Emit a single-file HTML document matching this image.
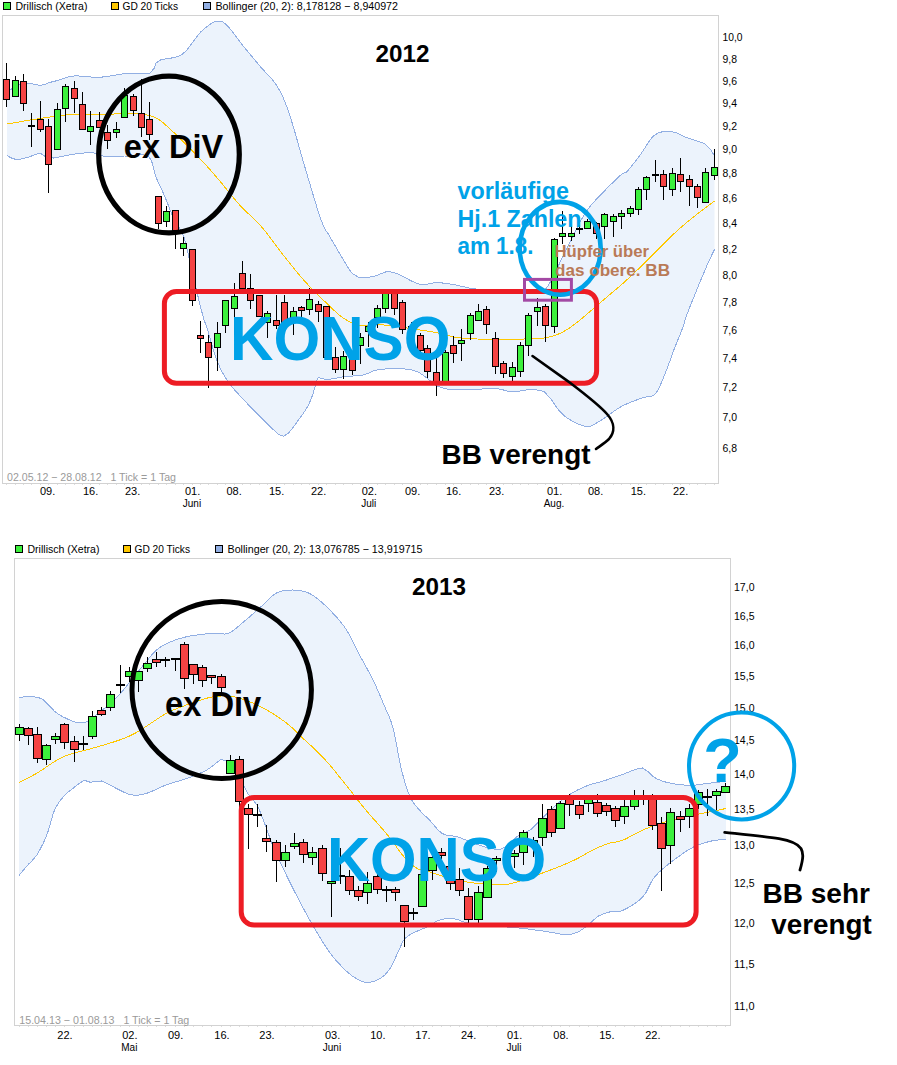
<!DOCTYPE html>
<html><head><meta charset="utf-8"><title>Chart</title>
<style>html,body{margin:0;padding:0;background:#fff}svg{display:block}text{font-family:"Liberation Sans",sans-serif}</style></head>
<body>
<svg width="897" height="1065" viewBox="0 0 897 1065" font-family="Liberation Sans, sans-serif">
<rect width="897" height="1065" fill="#fff"/>
<g shape-rendering="crispEdges">
<rect x="2.5" y="15.5" width="716" height="468" fill="none" stroke="#d2d2d2"/>
</g>
<polygon points="7.0,90.0 11.0,89.4 14.8,86.9 19.5,84.4 24.7,83.5 30.0,83.4 35.0,84.5 40.0,85.4 45.1,84.2 50.0,82.4 53.6,81.5 58.0,80.4 61.2,79.3 64.9,78.0 69.1,76.8 74.0,76.0 77.7,75.9 81.9,76.2 86.2,76.6 90.8,77.0 95.4,77.2 100.0,77.2 103.9,76.9 108.0,76.3 112.2,75.6 116.3,74.9 120.4,74.2 124.3,73.6 128.0,73.2 133.0,73.1 138.0,73.4 142.6,73.7 146.7,73.8 150.0,73.2 154.1,68.3 156.0,63.0 160.5,60.0 163.9,59.2 168.3,58.6 173.2,57.7 178.2,56.3 182.6,54.0 186.5,50.4 190.2,45.8 193.8,40.8 197.3,36.0 200.7,32.0 205.0,28.1 209.2,24.9 213.2,22.4 216.7,21.0 221.8,21.2 226.7,25.0 229.8,28.4 233.1,32.7 236.8,37.7 240.8,43.0 243.8,46.7 247.2,50.8 250.7,55.0 254.3,59.3 257.7,63.4 260.9,67.2 265.3,72.1 269.5,76.4 273.4,80.9 277.0,86.0 279.2,89.7 281.2,93.4 283.0,97.3 284.9,101.7 286.8,106.8 289.0,113.0 290.1,116.3 291.2,119.9 292.4,123.7 293.6,127.8 294.9,132.1 296.1,136.4 297.4,140.9 298.7,145.5 299.9,150.0 301.2,154.5 302.5,159.0 303.8,163.3 305.0,167.5 306.2,171.7 307.5,176.0 308.8,180.4 310.2,184.9 311.5,189.3 312.8,193.8 314.1,198.1 315.4,202.3 316.6,206.3 317.8,210.1 318.9,213.6 320.0,216.8 321.0,219.7 323.7,226.4 325.8,230.4 327.8,233.3 330.0,236.9 332.6,241.5 335.4,246.3 338.2,251.1 341.0,255.8 343.9,260.7 346.9,265.6 349.8,270.2 352.3,273.6 359.0,277.4 363.7,277.5 369.4,277.1 374.6,276.3 380.4,273.9 385.7,271.9 390.6,271.8 396.9,273.6 400.7,275.3 405.2,277.7 410.1,280.3 414.9,282.6 419.2,284.1 424.0,284.5 428.4,283.9 432.6,283.0 437.0,282.6 441.5,282.9 446.0,283.4 450.4,284.1 454.9,284.8 459.1,285.7 463.2,286.7 467.6,287.7 472.7,288.6 476.7,289.1 481.0,289.6 485.6,290.0 490.3,290.4 495.2,290.8 500.0,291.0 504.3,291.1 508.8,291.2 513.4,291.3 518.0,291.3 522.4,291.2 526.4,291.1 530.0,291.0 536.2,291.7 540.8,292.2 545.8,288.8 547.8,286.2 549.8,283.0 551.9,279.2 554.1,274.9 556.2,270.4 558.4,265.7 560.6,261.0 562.8,256.4 565.0,252.0 567.2,247.7 569.4,243.2 571.7,238.6 574.0,234.0 576.3,229.5 578.5,225.0 580.7,220.9 582.9,217.0 585.0,213.5 588.6,208.3 592.0,204.1 595.3,200.4 598.7,196.9 602.3,193.2 606.4,188.9 611.0,184.3 615.5,179.9 619.5,176.1 622.6,173.3 626.5,172.2 629.1,169.2 632.4,165.1 636.1,160.4 639.7,155.6 642.5,151.5 645.5,146.9 648.4,142.3 651.5,138.2 654.6,135.1 658.7,132.8 662.9,131.6 667.1,131.3 671.2,131.5 676.1,132.7 680.7,135.0 686.0,137.4 689.9,138.7 694.2,140.0 698.6,141.4 702.7,143.0 706.0,144.7 711.5,150.8 714.5,156.0 714.5,249.5 713.2,252.2 711.3,256.0 708.9,261.1 706.0,267.7 704.6,271.0 703.0,274.9 701.2,279.1 699.3,283.7 697.4,288.4 695.4,293.1 693.6,297.7 691.8,302.0 690.2,306.0 688.9,309.4 686.8,314.9 685.3,319.3 684.2,323.0 683.1,326.4 681.8,330.0 680.1,334.4 678.5,338.4 676.7,342.7 674.7,347.8 673.3,351.4 671.9,355.5 670.3,359.9 668.7,364.3 667.0,368.7 665.5,372.8 664.0,376.4 661.7,381.9 659.6,386.9 657.4,391.0 655.0,394.2 651.5,396.3 647.5,396.7 642.6,397.8 638.9,399.2 634.6,400.7 630.0,402.5 625.4,404.5 621.0,406.7 616.7,409.4 612.2,412.5 607.9,415.7 603.8,418.6 600.0,421.0 594.9,424.0 590.6,426.1 585.5,426.3 581.5,425.3 577.0,423.5 572.4,421.2 567.9,418.5 564.0,415.6 559.8,411.4 556.0,406.4 552.8,401.6 550.0,397.8 544.0,391.6 540.0,390.5 535.2,389.8 530.0,389.6 525.9,390.0 521.6,390.8 517.2,391.5 512.8,391.8 508.5,391.3 504.2,390.2 499.8,389.1 495.0,388.5 490.8,388.5 486.4,388.7 481.8,389.0 477.2,389.4 472.7,389.6 468.1,389.7 463.5,389.9 458.8,390.0 454.4,389.9 450.4,389.6 444.3,388.4 438.9,386.6 434.8,385.0 430.6,381.2 425.4,376.8 419.0,372.5 414.8,370.8 410.3,369.7 404.5,369.0 400.7,368.8 396.2,368.7 391.4,368.8 386.7,368.9 382.2,369.2 378.4,369.6 372.9,371.1 368.7,373.1 363.9,374.8 360.2,375.4 356.1,375.8 351.8,376.1 347.6,376.4 343.6,376.8 338.8,377.6 334.1,378.5 329.8,379.3 326.2,379.7 321.2,378.2 318.0,377.7 316.2,381.9 314.6,388.4 313.1,393.3 311.3,398.7 308.8,404.3 306.4,408.6 303.5,413.1 300.4,417.5 297.2,421.7 292.9,427.7 288.3,433.4 283.6,436.2 278.8,434.6 273.8,430.1 268.3,424.6 264.6,421.1 260.5,417.2 256.4,413.0 252.1,408.7 248.0,404.3 243.8,399.9 239.5,395.3 235.2,390.6 231.2,385.9 227.7,381.2 224.8,376.7 222.3,372.2 220.0,367.7 218.0,363.0 216.0,358.0 214.6,354.0 213.2,349.6 211.9,345.0 210.6,340.5 209.4,336.1 208.4,332.2 207.4,329.0 205.4,323.7 203.5,318.2 202.6,314.8 201.5,310.6 200.3,305.9 199.1,301.0 197.9,296.1 196.7,291.3 195.7,287.0 194.6,282.5 193.7,278.3 192.8,274.2 191.9,270.2 191.0,266.2 190.0,262.0 189.0,257.6 188.0,253.0 186.9,248.3 185.8,243.8 184.7,239.5 183.4,235.7 181.2,231.1 178.9,227.4 176.4,223.8 174.0,219.5 172.2,215.4 170.4,210.8 168.6,206.1 166.8,201.4 165.0,197.0 163.2,192.8 161.3,188.8 159.5,184.9 157.7,181.0 156.0,177.0 154.6,172.6 153.5,167.9 152.3,163.3 150.8,159.3 148.5,156.5 145.4,155.1 141.6,154.8 137.3,155.2 132.9,155.7 128.4,156.0 124.5,156.0 120.2,156.2 115.8,156.3 111.6,156.5 107.7,156.5 104.3,156.3 99.7,155.2 96.5,153.6 92.3,152.7 88.7,152.7 84.7,152.9 80.4,153.4 76.1,153.9 72.0,154.5 67.0,155.4 61.9,156.4 57.3,157.4 53.5,158.0 46.0,157.0 40.0,153.0 34.9,154.6 29.0,157.0 24.7,158.2 20.1,159.2 16.0,159.5 10.7,157.7 7.0,155.5" fill="#ecf3fc"/>
<polyline points="7.0,90.0 11.0,89.4 14.8,86.9 19.5,84.4 24.7,83.5 30.0,83.4 35.0,84.5 40.0,85.4 45.1,84.2 50.0,82.4 53.6,81.5 58.0,80.4 61.2,79.3 64.9,78.0 69.1,76.8 74.0,76.0 77.7,75.9 81.9,76.2 86.2,76.6 90.8,77.0 95.4,77.2 100.0,77.2 103.9,76.9 108.0,76.3 112.2,75.6 116.3,74.9 120.4,74.2 124.3,73.6 128.0,73.2 133.0,73.1 138.0,73.4 142.6,73.7 146.7,73.8 150.0,73.2 154.1,68.3 156.0,63.0 160.5,60.0 163.9,59.2 168.3,58.6 173.2,57.7 178.2,56.3 182.6,54.0 186.5,50.4 190.2,45.8 193.8,40.8 197.3,36.0 200.7,32.0 205.0,28.1 209.2,24.9 213.2,22.4 216.7,21.0 221.8,21.2 226.7,25.0 229.8,28.4 233.1,32.7 236.8,37.7 240.8,43.0 243.8,46.7 247.2,50.8 250.7,55.0 254.3,59.3 257.7,63.4 260.9,67.2 265.3,72.1 269.5,76.4 273.4,80.9 277.0,86.0 279.2,89.7 281.2,93.4 283.0,97.3 284.9,101.7 286.8,106.8 289.0,113.0 290.1,116.3 291.2,119.9 292.4,123.7 293.6,127.8 294.9,132.1 296.1,136.4 297.4,140.9 298.7,145.5 299.9,150.0 301.2,154.5 302.5,159.0 303.8,163.3 305.0,167.5 306.2,171.7 307.5,176.0 308.8,180.4 310.2,184.9 311.5,189.3 312.8,193.8 314.1,198.1 315.4,202.3 316.6,206.3 317.8,210.1 318.9,213.6 320.0,216.8 321.0,219.7 323.7,226.4 325.8,230.4 327.8,233.3 330.0,236.9 332.6,241.5 335.4,246.3 338.2,251.1 341.0,255.8 343.9,260.7 346.9,265.6 349.8,270.2 352.3,273.6 359.0,277.4 363.7,277.5 369.4,277.1 374.6,276.3 380.4,273.9 385.7,271.9 390.6,271.8 396.9,273.6 400.7,275.3 405.2,277.7 410.1,280.3 414.9,282.6 419.2,284.1 424.0,284.5 428.4,283.9 432.6,283.0 437.0,282.6 441.5,282.9 446.0,283.4 450.4,284.1 454.9,284.8 459.1,285.7 463.2,286.7 467.6,287.7 472.7,288.6 476.7,289.1 481.0,289.6 485.6,290.0 490.3,290.4 495.2,290.8 500.0,291.0 504.3,291.1 508.8,291.2 513.4,291.3 518.0,291.3 522.4,291.2 526.4,291.1 530.0,291.0 536.2,291.7 540.8,292.2 545.8,288.8 547.8,286.2 549.8,283.0 551.9,279.2 554.1,274.9 556.2,270.4 558.4,265.7 560.6,261.0 562.8,256.4 565.0,252.0 567.2,247.7 569.4,243.2 571.7,238.6 574.0,234.0 576.3,229.5 578.5,225.0 580.7,220.9 582.9,217.0 585.0,213.5 588.6,208.3 592.0,204.1 595.3,200.4 598.7,196.9 602.3,193.2 606.4,188.9 611.0,184.3 615.5,179.9 619.5,176.1 622.6,173.3 626.5,172.2 629.1,169.2 632.4,165.1 636.1,160.4 639.7,155.6 642.5,151.5 645.5,146.9 648.4,142.3 651.5,138.2 654.6,135.1 658.7,132.8 662.9,131.6 667.1,131.3 671.2,131.5 676.1,132.7 680.7,135.0 686.0,137.4 689.9,138.7 694.2,140.0 698.6,141.4 702.7,143.0 706.0,144.7 711.5,150.8 714.5,156.0" fill="none" stroke="#92afe3" stroke-width="1" shape-rendering="crispEdges"/>
<polyline points="7.0,155.5 10.7,157.7 16.0,159.5 20.1,159.2 24.7,158.2 29.0,157.0 34.9,154.6 40.0,153.0 46.0,157.0 53.5,158.0 57.3,157.4 61.9,156.4 67.0,155.4 72.0,154.5 76.1,153.9 80.4,153.4 84.7,152.9 88.7,152.7 92.3,152.7 96.5,153.6 99.7,155.2 104.3,156.3 107.7,156.5 111.6,156.5 115.8,156.3 120.2,156.2 124.5,156.0 128.4,156.0 132.9,155.7 137.3,155.2 141.6,154.8 145.4,155.1 148.5,156.5 150.8,159.3 152.3,163.3 153.5,167.9 154.6,172.6 156.0,177.0 157.7,181.0 159.5,184.9 161.3,188.8 163.2,192.8 165.0,197.0 166.8,201.4 168.6,206.1 170.4,210.8 172.2,215.4 174.0,219.5 176.4,223.8 178.9,227.4 181.2,231.1 183.4,235.7 184.7,239.5 185.8,243.8 186.9,248.3 188.0,253.0 189.0,257.6 190.0,262.0 191.0,266.2 191.9,270.2 192.8,274.2 193.7,278.3 194.6,282.5 195.7,287.0 196.7,291.3 197.9,296.1 199.1,301.0 200.3,305.9 201.5,310.6 202.6,314.8 203.5,318.2 205.4,323.7 207.4,329.0 208.4,332.2 209.4,336.1 210.6,340.5 211.9,345.0 213.2,349.6 214.6,354.0 216.0,358.0 218.0,363.0 220.0,367.7 222.3,372.2 224.8,376.7 227.7,381.2 231.2,385.9 235.2,390.6 239.5,395.3 243.8,399.9 248.0,404.3 252.1,408.7 256.4,413.0 260.5,417.2 264.6,421.1 268.3,424.6 273.8,430.1 278.8,434.6 283.6,436.2 288.3,433.4 292.9,427.7 297.2,421.7 300.4,417.5 303.5,413.1 306.4,408.6 308.8,404.3 311.3,398.7 313.1,393.3 314.6,388.4 316.2,381.9 318.0,377.7 321.2,378.2 326.2,379.7 329.8,379.3 334.1,378.5 338.8,377.6 343.6,376.8 347.6,376.4 351.8,376.1 356.1,375.8 360.2,375.4 363.9,374.8 368.7,373.1 372.9,371.1 378.4,369.6 382.2,369.2 386.7,368.9 391.4,368.8 396.2,368.7 400.7,368.8 404.5,369.0 410.3,369.7 414.8,370.8 419.0,372.5 425.4,376.8 430.6,381.2 434.8,385.0 438.9,386.6 444.3,388.4 450.4,389.6 454.4,389.9 458.8,390.0 463.5,389.9 468.1,389.7 472.7,389.6 477.2,389.4 481.8,389.0 486.4,388.7 490.8,388.5 495.0,388.5 499.8,389.1 504.2,390.2 508.5,391.3 512.8,391.8 517.2,391.5 521.6,390.8 525.9,390.0 530.0,389.6 535.2,389.8 540.0,390.5 544.0,391.6 550.0,397.8 552.8,401.6 556.0,406.4 559.8,411.4 564.0,415.6 567.9,418.5 572.4,421.2 577.0,423.5 581.5,425.3 585.5,426.3 590.6,426.1 594.9,424.0 600.0,421.0 603.8,418.6 607.9,415.7 612.2,412.5 616.7,409.4 621.0,406.7 625.4,404.5 630.0,402.5 634.6,400.7 638.9,399.2 642.6,397.8 647.5,396.7 651.5,396.3 655.0,394.2 657.4,391.0 659.6,386.9 661.7,381.9 664.0,376.4 665.5,372.8 667.0,368.7 668.7,364.3 670.3,359.9 671.9,355.5 673.3,351.4 674.7,347.8 676.7,342.7 678.5,338.4 680.1,334.4 681.8,330.0 683.1,326.4 684.2,323.0 685.3,319.3 686.8,314.9 688.9,309.4 690.2,306.0 691.8,302.0 693.6,297.7 695.4,293.1 697.4,288.4 699.3,283.7 701.2,279.1 703.0,274.9 704.6,271.0 706.0,267.7 708.9,261.1 711.3,256.0 713.2,252.2 714.5,249.5" fill="none" stroke="#92afe3" stroke-width="1" shape-rendering="crispEdges"/>
<polyline points="7.0,124.0 9.6,123.6 13.0,123.0 17.0,122.3 21.5,121.5 26.2,120.7 31.0,119.9 35.7,119.2 40.0,118.5 44.0,117.9 48.1,117.3 52.1,116.7 56.1,116.2 60.0,115.6 64.0,115.2 68.0,114.8 72.0,114.5 76.0,114.3 80.1,114.2 84.2,114.3 88.2,114.3 92.3,114.4 96.3,114.5 100.2,114.5 104.0,114.5 108.3,114.3 112.5,114.1 116.6,113.8 120.6,113.5 124.5,113.3 128.3,113.2 132.0,113.3 136.9,113.6 141.6,114.0 146.1,114.7 150.4,115.8 154.5,117.3 159.1,119.8 163.2,122.8 167.5,126.7 172.6,131.4 176.2,134.7 180.2,138.6 184.5,142.9 188.8,147.3 193.1,151.6 197.1,155.8 200.7,159.5 205.0,164.0 208.6,168.1 212.0,171.9 215.4,175.8 219.0,180.0 222.2,183.9 225.5,188.0 228.8,192.1 232.2,196.3 235.7,200.5 239.2,204.5 243.5,209.0 248.0,213.3 252.5,217.5 257.0,221.9 261.5,226.8 264.7,230.6 267.9,234.7 271.1,238.9 274.2,243.2 277.4,247.5 280.6,251.7 283.8,255.8 287.5,260.4 291.2,265.1 294.9,269.6 298.6,274.1 302.3,278.4 306.0,282.6 310.6,287.5 315.3,292.3 320.0,296.8 324.4,301.1 328.4,304.9 333.9,310.2 338.6,314.6 343.4,318.2 348.4,321.2 353.5,323.5 359.0,325.0 363.4,325.3 368.1,325.0 373.0,324.6 378.0,324.5 382.2,324.8 386.7,325.3 391.2,325.8 395.7,326.4 400.0,327.0 404.2,327.6 408.3,328.2 412.3,328.8 416.2,329.4 420.0,330.0 424.4,330.7 428.6,331.3 432.8,331.9 437.0,332.7 441.4,333.8 445.9,335.0 450.4,336.2 454.9,337.2 459.3,337.8 463.5,338.2 467.9,338.5 472.7,338.8 476.9,339.0 481.4,339.1 486.0,339.2 490.6,339.3 495.0,339.4 499.3,339.5 503.7,339.7 507.9,339.8 511.7,339.9 515.0,339.9 519.6,339.5 524.5,338.9 528.2,338.7 532.7,338.6 537.5,338.5 542.3,338.2 546.6,337.6 551.2,336.6 555.5,335.2 559.6,333.6 563.8,331.5 568.1,328.9 572.4,325.9 576.7,322.6 581.0,319.2 585.1,315.8 589.0,312.4 593.2,308.7 598.0,304.5 601.7,301.4 605.6,298.1 609.8,294.6 614.1,291.0 618.4,287.4 622.6,283.7 626.7,280.0 630.8,276.2 634.9,272.3 639.0,268.4 643.1,264.4 647.2,260.4 651.3,256.3 655.6,252.0 659.8,247.7 663.9,243.5 667.9,239.5 671.7,235.8 676.9,231.0 681.6,226.8 686.3,222.8 691.3,218.7 696.1,214.9 701.4,210.8 706.7,206.8 711.3,203.4 714.5,201.0" fill="none" stroke="#ffc800" stroke-width="1" shape-rendering="crispEdges"/>

<g shape-rendering="crispEdges"><rect x="6" y="63" width="1" height="44" fill="#000"/>
<rect x="3" y="79" width="7" height="21" fill="#000"/>
<rect x="4" y="80" width="5" height="19" fill="#f54343"/>
<rect x="15" y="76" width="1" height="21" fill="#000"/>
<rect x="12" y="80" width="7" height="17" fill="#000"/>
<rect x="13" y="81" width="5" height="15" fill="#3cf03c"/>
<rect x="23" y="74" width="1" height="37" fill="#000"/>
<rect x="20" y="81" width="7" height="23" fill="#000"/>
<rect x="21" y="82" width="5" height="21" fill="#f54343"/>
<rect x="31" y="113" width="1" height="34" fill="#000"/>
<rect x="28" y="125" width="7" height="2" fill="#000"/>
<rect x="40" y="101" width="1" height="31" fill="#000"/>
<rect x="37" y="119" width="7" height="11" fill="#000"/>
<rect x="38" y="120" width="5" height="9" fill="#f54343"/>
<rect x="48" y="119" width="1" height="74" fill="#000"/>
<rect x="45" y="126" width="7" height="39" fill="#000"/>
<rect x="46" y="127" width="5" height="37" fill="#f54343"/>
<rect x="57" y="103" width="1" height="47" fill="#000"/>
<rect x="54" y="109" width="7" height="41" fill="#000"/>
<rect x="55" y="110" width="5" height="39" fill="#3cf03c"/>
<rect x="65" y="84" width="1" height="38" fill="#000"/>
<rect x="62" y="86" width="7" height="23" fill="#000"/>
<rect x="63" y="87" width="5" height="21" fill="#3cf03c"/>
<rect x="74" y="81" width="1" height="32" fill="#000"/>
<rect x="71" y="88" width="7" height="11" fill="#000"/>
<rect x="72" y="89" width="5" height="9" fill="#f54343"/>
<rect x="82" y="92" width="1" height="38" fill="#000"/>
<rect x="79" y="104" width="7" height="26" fill="#000"/>
<rect x="80" y="105" width="5" height="24" fill="#f54343"/>
<rect x="90" y="111" width="1" height="34" fill="#000"/>
<rect x="87" y="126" width="7" height="6" fill="#000"/>
<rect x="88" y="127" width="5" height="4" fill="#3cf03c"/>
<rect x="99" y="112" width="1" height="16" fill="#000"/>
<rect x="96" y="120" width="7" height="8" fill="#000"/>
<rect x="97" y="121" width="5" height="6" fill="#f54343"/>
<rect x="107" y="125" width="1" height="24" fill="#000"/>
<rect x="104" y="132" width="7" height="9" fill="#000"/>
<rect x="105" y="133" width="5" height="7" fill="#f54343"/>
<rect x="116" y="122" width="1" height="16" fill="#000"/>
<rect x="113" y="129" width="7" height="4" fill="#000"/>
<rect x="114" y="130" width="5" height="2" fill="#3cf03c"/>
<rect x="124" y="88" width="1" height="30" fill="#000"/>
<rect x="121" y="95" width="7" height="23" fill="#000"/>
<rect x="122" y="96" width="5" height="21" fill="#3cf03c"/>
<rect x="133" y="94" width="1" height="22" fill="#000"/>
<rect x="130" y="96" width="7" height="15" fill="#000"/>
<rect x="131" y="97" width="5" height="13" fill="#f54343"/>
<rect x="141" y="79" width="1" height="58" fill="#000"/>
<rect x="138" y="113" width="7" height="15" fill="#000"/>
<rect x="139" y="114" width="5" height="13" fill="#f54343"/>
<rect x="149" y="102" width="1" height="38" fill="#000"/>
<rect x="146" y="119" width="7" height="16" fill="#000"/>
<rect x="147" y="120" width="5" height="14" fill="#f54343"/>
<rect x="158" y="196" width="1" height="33" fill="#000"/>
<rect x="155" y="196" width="7" height="28" fill="#000"/>
<rect x="156" y="197" width="5" height="26" fill="#f54343"/>
<rect x="166" y="206" width="1" height="21" fill="#000"/>
<rect x="163" y="211" width="7" height="11" fill="#000"/>
<rect x="164" y="212" width="5" height="9" fill="#3cf03c"/>
<rect x="175" y="210" width="1" height="39" fill="#000"/>
<rect x="172" y="210" width="7" height="21" fill="#000"/>
<rect x="173" y="211" width="5" height="19" fill="#f54343"/>
<rect x="183" y="237" width="1" height="19" fill="#000"/>
<rect x="180" y="243" width="7" height="6" fill="#000"/>
<rect x="181" y="244" width="5" height="4" fill="#3cf03c"/>
<rect x="192" y="249" width="1" height="57" fill="#000"/>
<rect x="189" y="249" width="7" height="52" fill="#000"/>
<rect x="190" y="250" width="5" height="50" fill="#f54343"/>
<rect x="200" y="321" width="1" height="32" fill="#000"/>
<rect x="197" y="335" width="7" height="4" fill="#000"/>
<rect x="198" y="336" width="5" height="2" fill="#f54343"/>
<rect x="208" y="335" width="1" height="53" fill="#000"/>
<rect x="205" y="342" width="7" height="16" fill="#000"/>
<rect x="206" y="343" width="5" height="14" fill="#f54343"/>
<rect x="217" y="322" width="1" height="49" fill="#000"/>
<rect x="214" y="333" width="7" height="15" fill="#000"/>
<rect x="215" y="334" width="5" height="13" fill="#3cf03c"/>
<rect x="225" y="300" width="1" height="33" fill="#000"/>
<rect x="222" y="300" width="7" height="26" fill="#000"/>
<rect x="223" y="301" width="5" height="24" fill="#3cf03c"/>
<rect x="234" y="283" width="1" height="54" fill="#000"/>
<rect x="231" y="296" width="7" height="13" fill="#000"/>
<rect x="232" y="297" width="5" height="11" fill="#3cf03c"/>
<rect x="242" y="261" width="1" height="28" fill="#000"/>
<rect x="239" y="273" width="7" height="16" fill="#000"/>
<rect x="240" y="274" width="5" height="14" fill="#f54343"/>
<rect x="250" y="274" width="1" height="35" fill="#000"/>
<rect x="247" y="288" width="7" height="13" fill="#000"/>
<rect x="248" y="289" width="5" height="11" fill="#f54343"/>
<rect x="259" y="295" width="1" height="22" fill="#000"/>
<rect x="256" y="295" width="7" height="22" fill="#000"/>
<rect x="257" y="296" width="5" height="20" fill="#f54343"/>
<rect x="267" y="311" width="1" height="27" fill="#000"/>
<rect x="264" y="313" width="7" height="10" fill="#000"/>
<rect x="265" y="314" width="5" height="8" fill="#3cf03c"/>
<rect x="276" y="295" width="1" height="34" fill="#000"/>
<rect x="273" y="320" width="7" height="6" fill="#000"/>
<rect x="274" y="321" width="5" height="4" fill="#f54343"/>
<rect x="284" y="295" width="1" height="28" fill="#000"/>
<rect x="281" y="302" width="7" height="21" fill="#000"/>
<rect x="282" y="303" width="5" height="19" fill="#f54343"/>
<rect x="293" y="307" width="1" height="28" fill="#000"/>
<rect x="290" y="311" width="7" height="10" fill="#000"/>
<rect x="291" y="312" width="5" height="8" fill="#3cf03c"/>
<rect x="301" y="306" width="1" height="11" fill="#000"/>
<rect x="298" y="307" width="7" height="4" fill="#000"/>
<rect x="299" y="308" width="5" height="2" fill="#f54343"/>
<rect x="309" y="288" width="1" height="27" fill="#000"/>
<rect x="306" y="299" width="7" height="11" fill="#000"/>
<rect x="307" y="300" width="5" height="9" fill="#3cf03c"/>
<rect x="318" y="301" width="1" height="21" fill="#000"/>
<rect x="315" y="304" width="7" height="8" fill="#000"/>
<rect x="316" y="305" width="5" height="6" fill="#f54343"/>
<rect x="326" y="306" width="1" height="52" fill="#000"/>
<rect x="323" y="306" width="7" height="52" fill="#000"/>
<rect x="324" y="307" width="5" height="50" fill="#f54343"/>
<rect x="335" y="347" width="1" height="26" fill="#000"/>
<rect x="332" y="357" width="7" height="13" fill="#000"/>
<rect x="333" y="358" width="5" height="11" fill="#f54343"/>
<rect x="343" y="351" width="1" height="28" fill="#000"/>
<rect x="340" y="356" width="7" height="14" fill="#000"/>
<rect x="341" y="357" width="5" height="12" fill="#3cf03c"/>
<rect x="352" y="355" width="1" height="20" fill="#000"/>
<rect x="349" y="359" width="7" height="12" fill="#000"/>
<rect x="350" y="360" width="5" height="10" fill="#f54343"/>
<rect x="360" y="333" width="1" height="31" fill="#000"/>
<rect x="357" y="337" width="7" height="9" fill="#000"/>
<rect x="358" y="338" width="5" height="7" fill="#3cf03c"/>
<rect x="368" y="322" width="1" height="25" fill="#000"/>
<rect x="365" y="326" width="7" height="6" fill="#000"/>
<rect x="366" y="327" width="5" height="4" fill="#3cf03c"/>
<rect x="377" y="305" width="1" height="23" fill="#000"/>
<rect x="374" y="308" width="7" height="10" fill="#000"/>
<rect x="375" y="309" width="5" height="8" fill="#3cf03c"/>
<rect x="385" y="291" width="1" height="22" fill="#000"/>
<rect x="382" y="291" width="7" height="18" fill="#000"/>
<rect x="383" y="292" width="5" height="16" fill="#3cf03c"/>
<rect x="394" y="291" width="1" height="24" fill="#000"/>
<rect x="391" y="291" width="7" height="18" fill="#000"/>
<rect x="392" y="292" width="5" height="16" fill="#f54343"/>
<rect x="402" y="300" width="1" height="34" fill="#000"/>
<rect x="399" y="302" width="7" height="28" fill="#000"/>
<rect x="400" y="303" width="5" height="26" fill="#f54343"/>
<rect x="411" y="322" width="1" height="19" fill="#000"/>
<rect x="408" y="326" width="7" height="11" fill="#000"/>
<rect x="409" y="327" width="5" height="9" fill="#f54343"/>
<rect x="420" y="333" width="1" height="20" fill="#000"/>
<rect x="417" y="335" width="7" height="16" fill="#000"/>
<rect x="418" y="336" width="5" height="14" fill="#f54343"/>
<rect x="427" y="345" width="1" height="33" fill="#000"/>
<rect x="424" y="348" width="7" height="24" fill="#000"/>
<rect x="425" y="349" width="5" height="22" fill="#f54343"/>
<rect x="436" y="358" width="1" height="38" fill="#000"/>
<rect x="433" y="372" width="7" height="11" fill="#000"/>
<rect x="434" y="373" width="5" height="9" fill="#f54343"/>
<rect x="445" y="350" width="1" height="33" fill="#000"/>
<rect x="442" y="352" width="7" height="31" fill="#000"/>
<rect x="443" y="353" width="5" height="29" fill="#3cf03c"/>
<rect x="453" y="336" width="1" height="27" fill="#000"/>
<rect x="450" y="345" width="7" height="9" fill="#000"/>
<rect x="451" y="346" width="5" height="7" fill="#f54343"/>
<rect x="461" y="329" width="1" height="32" fill="#000"/>
<rect x="458" y="340" width="7" height="4" fill="#000"/>
<rect x="459" y="341" width="5" height="2" fill="#3cf03c"/>
<rect x="470" y="313" width="1" height="27" fill="#000"/>
<rect x="467" y="315" width="7" height="19" fill="#000"/>
<rect x="468" y="316" width="5" height="17" fill="#3cf03c"/>
<rect x="478" y="304" width="1" height="17" fill="#000"/>
<rect x="475" y="311" width="7" height="10" fill="#000"/>
<rect x="476" y="312" width="5" height="8" fill="#3cf03c"/>
<rect x="486" y="306" width="1" height="28" fill="#000"/>
<rect x="483" y="309" width="7" height="16" fill="#000"/>
<rect x="484" y="310" width="5" height="14" fill="#f54343"/>
<rect x="495" y="332" width="1" height="42" fill="#000"/>
<rect x="492" y="338" width="7" height="29" fill="#000"/>
<rect x="493" y="339" width="5" height="27" fill="#f54343"/>
<rect x="503" y="361" width="1" height="17" fill="#000"/>
<rect x="500" y="363" width="7" height="11" fill="#000"/>
<rect x="501" y="364" width="5" height="9" fill="#f54343"/>
<rect x="512" y="362" width="1" height="20" fill="#000"/>
<rect x="509" y="367" width="7" height="10" fill="#000"/>
<rect x="510" y="368" width="5" height="8" fill="#3cf03c"/>
<rect x="520" y="342" width="1" height="35" fill="#000"/>
<rect x="517" y="345" width="7" height="27" fill="#000"/>
<rect x="518" y="346" width="5" height="25" fill="#3cf03c"/>
<rect x="528" y="313" width="1" height="43" fill="#000"/>
<rect x="525" y="315" width="7" height="31" fill="#000"/>
<rect x="526" y="316" width="5" height="29" fill="#3cf03c"/>
<rect x="537" y="298" width="1" height="28" fill="#000"/>
<rect x="534" y="307" width="7" height="5" fill="#000"/>
<rect x="535" y="308" width="5" height="3" fill="#3cf03c"/>
<rect x="545" y="304" width="1" height="38" fill="#000"/>
<rect x="542" y="306" width="7" height="20" fill="#000"/>
<rect x="543" y="307" width="5" height="18" fill="#f54343"/>
<rect x="554" y="238" width="1" height="95" fill="#000"/>
<rect x="551" y="239" width="7" height="88" fill="#000"/>
<rect x="552" y="240" width="5" height="86" fill="#3cf03c"/>
<rect x="562" y="211" width="1" height="33" fill="#000"/>
<rect x="559" y="233" width="7" height="4" fill="#000"/>
<rect x="560" y="234" width="5" height="2" fill="#3cf03c"/>
<rect x="571" y="226" width="1" height="15" fill="#000"/>
<rect x="568" y="233" width="7" height="4" fill="#000"/>
<rect x="569" y="234" width="5" height="2" fill="#3cf03c"/>
<rect x="579" y="225" width="1" height="9" fill="#000"/>
<rect x="576" y="228" width="7" height="2" fill="#000"/>
<rect x="587" y="219" width="1" height="10" fill="#000"/>
<rect x="584" y="221" width="7" height="8" fill="#000"/>
<rect x="585" y="222" width="5" height="6" fill="#3cf03c"/>
<rect x="596" y="222" width="1" height="17" fill="#000"/>
<rect x="593" y="223" width="7" height="11" fill="#000"/>
<rect x="594" y="224" width="5" height="9" fill="#f54343"/>
<rect x="604" y="213" width="1" height="26" fill="#000"/>
<rect x="601" y="214" width="7" height="13" fill="#000"/>
<rect x="602" y="215" width="5" height="11" fill="#3cf03c"/>
<rect x="613" y="214" width="1" height="23" fill="#000"/>
<rect x="610" y="216" width="7" height="6" fill="#000"/>
<rect x="611" y="217" width="5" height="4" fill="#3cf03c"/>
<rect x="621" y="210" width="1" height="19" fill="#000"/>
<rect x="618" y="213" width="7" height="4" fill="#000"/>
<rect x="619" y="214" width="5" height="2" fill="#3cf03c"/>
<rect x="630" y="206" width="1" height="11" fill="#000"/>
<rect x="627" y="208" width="7" height="6" fill="#000"/>
<rect x="628" y="209" width="5" height="4" fill="#3cf03c"/>
<rect x="638" y="187" width="1" height="28" fill="#000"/>
<rect x="635" y="189" width="7" height="21" fill="#000"/>
<rect x="636" y="190" width="5" height="19" fill="#3cf03c"/>
<rect x="646" y="176" width="1" height="24" fill="#000"/>
<rect x="643" y="177" width="7" height="13" fill="#000"/>
<rect x="644" y="178" width="5" height="11" fill="#3cf03c"/>
<rect x="655" y="160" width="1" height="22" fill="#000"/>
<rect x="652" y="174" width="7" height="2" fill="#000"/>
<rect x="663" y="170" width="1" height="30" fill="#000"/>
<rect x="660" y="174" width="7" height="13" fill="#000"/>
<rect x="661" y="175" width="5" height="11" fill="#f54343"/>
<rect x="672" y="168" width="1" height="28" fill="#000"/>
<rect x="669" y="173" width="7" height="17" fill="#000"/>
<rect x="670" y="174" width="5" height="15" fill="#3cf03c"/>
<rect x="680" y="158" width="1" height="34" fill="#000"/>
<rect x="677" y="174" width="7" height="8" fill="#000"/>
<rect x="678" y="175" width="5" height="6" fill="#f54343"/>
<rect x="689" y="175" width="1" height="31" fill="#000"/>
<rect x="686" y="179" width="7" height="8" fill="#000"/>
<rect x="687" y="180" width="5" height="6" fill="#f54343"/>
<rect x="697" y="184" width="1" height="24" fill="#000"/>
<rect x="694" y="186" width="7" height="12" fill="#000"/>
<rect x="695" y="187" width="5" height="10" fill="#f54343"/>
<rect x="705" y="168" width="1" height="35" fill="#000"/>
<rect x="702" y="172" width="7" height="31" fill="#000"/>
<rect x="703" y="173" width="5" height="29" fill="#3cf03c"/>
<rect x="714" y="149" width="1" height="31" fill="#000"/>
<rect x="711" y="167" width="7" height="9" fill="#000"/>
<rect x="712" y="168" width="5" height="7" fill="#3cf03c"/></g>
<g shape-rendering="crispEdges" fill="#dcdcdc"><rect x="6" y="484" width="1" height="1"/><rect x="15" y="484" width="1" height="1"/><rect x="23" y="484" width="1" height="1"/><rect x="31" y="484" width="1" height="1"/><rect x="40" y="484" width="1" height="1"/><rect x="48" y="484" width="1" height="1"/><rect x="57" y="484" width="1" height="1"/><rect x="65" y="484" width="1" height="1"/><rect x="74" y="484" width="1" height="1"/><rect x="82" y="484" width="1" height="1"/><rect x="90" y="484" width="1" height="1"/><rect x="99" y="484" width="1" height="1"/><rect x="107" y="484" width="1" height="1"/><rect x="116" y="484" width="1" height="1"/><rect x="124" y="484" width="1" height="1"/><rect x="133" y="484" width="1" height="1"/><rect x="141" y="484" width="1" height="1"/><rect x="149" y="484" width="1" height="1"/><rect x="158" y="484" width="1" height="1"/><rect x="166" y="484" width="1" height="1"/><rect x="175" y="484" width="1" height="1"/><rect x="183" y="484" width="1" height="1"/><rect x="192" y="484" width="1" height="1"/><rect x="200" y="484" width="1" height="1"/><rect x="208" y="484" width="1" height="1"/><rect x="217" y="484" width="1" height="1"/><rect x="225" y="484" width="1" height="1"/><rect x="234" y="484" width="1" height="1"/><rect x="242" y="484" width="1" height="1"/><rect x="250" y="484" width="1" height="1"/><rect x="259" y="484" width="1" height="1"/><rect x="267" y="484" width="1" height="1"/><rect x="276" y="484" width="1" height="1"/><rect x="284" y="484" width="1" height="1"/><rect x="293" y="484" width="1" height="1"/><rect x="301" y="484" width="1" height="1"/><rect x="309" y="484" width="1" height="1"/><rect x="318" y="484" width="1" height="1"/><rect x="326" y="484" width="1" height="1"/><rect x="335" y="484" width="1" height="1"/><rect x="343" y="484" width="1" height="1"/><rect x="352" y="484" width="1" height="1"/><rect x="360" y="484" width="1" height="1"/><rect x="368" y="484" width="1" height="1"/><rect x="377" y="484" width="1" height="1"/><rect x="385" y="484" width="1" height="1"/><rect x="394" y="484" width="1" height="1"/><rect x="402" y="484" width="1" height="1"/><rect x="411" y="484" width="1" height="1"/><rect x="420" y="484" width="1" height="1"/><rect x="427" y="484" width="1" height="1"/><rect x="436" y="484" width="1" height="1"/><rect x="445" y="484" width="1" height="1"/><rect x="453" y="484" width="1" height="1"/><rect x="461" y="484" width="1" height="1"/><rect x="470" y="484" width="1" height="1"/><rect x="478" y="484" width="1" height="1"/><rect x="486" y="484" width="1" height="1"/><rect x="495" y="484" width="1" height="1"/><rect x="503" y="484" width="1" height="1"/><rect x="512" y="484" width="1" height="1"/><rect x="520" y="484" width="1" height="1"/><rect x="528" y="484" width="1" height="1"/><rect x="537" y="484" width="1" height="1"/><rect x="545" y="484" width="1" height="1"/><rect x="554" y="484" width="1" height="1"/><rect x="562" y="484" width="1" height="1"/><rect x="571" y="484" width="1" height="1"/><rect x="579" y="484" width="1" height="1"/><rect x="587" y="484" width="1" height="1"/><rect x="596" y="484" width="1" height="1"/><rect x="604" y="484" width="1" height="1"/><rect x="613" y="484" width="1" height="1"/><rect x="621" y="484" width="1" height="1"/><rect x="630" y="484" width="1" height="1"/><rect x="638" y="484" width="1" height="1"/><rect x="646" y="484" width="1" height="1"/><rect x="655" y="484" width="1" height="1"/><rect x="663" y="484" width="1" height="1"/><rect x="672" y="484" width="1" height="1"/><rect x="680" y="484" width="1" height="1"/><rect x="689" y="484" width="1" height="1"/><rect x="697" y="484" width="1" height="1"/><rect x="705" y="484" width="1" height="1"/><rect x="714" y="484" width="1" height="1"/></g>
<rect x="3.5" y="2.5" width="7" height="7" fill="#3cf03c" stroke="#000" stroke-width="1" shape-rendering="crispEdges"/>
<rect x="111.5" y="2.5" width="7" height="7" fill="#ffc800" stroke="#000" stroke-width="1" shape-rendering="crispEdges"/>
<rect x="203.5" y="2.5" width="7" height="7" fill="#92afe3" stroke="#000" stroke-width="1" shape-rendering="crispEdges"/>

<text x="15.5" y="10" font-size="11" fill="#000" font-weight="normal" text-anchor="start" textLength="72" lengthAdjust="spacingAndGlyphs" >Drillisch (Xetra)</text>
<text x="122.5" y="10" font-size="11" fill="#000" font-weight="normal" text-anchor="start" textLength="55.5" lengthAdjust="spacingAndGlyphs" >GD 20 Ticks</text>
<text x="215.5" y="10" font-size="11" fill="#000" font-weight="normal" text-anchor="start" textLength="182.5" lengthAdjust="spacingAndGlyphs" >Bollinger (20, 2): 8,178128 − 8,940972</text>
<text x="722.5" y="41" font-size="11" fill="#000" font-weight="normal" text-anchor="start" textLength="20" lengthAdjust="spacingAndGlyphs" >10,0</text>
<text x="722.5" y="63" font-size="11" fill="#000" font-weight="normal" text-anchor="start" textLength="14.5" lengthAdjust="spacingAndGlyphs" >9,8</text>
<text x="722.5" y="85" font-size="11" fill="#000" font-weight="normal" text-anchor="start" textLength="14.5" lengthAdjust="spacingAndGlyphs" >9,6</text>
<text x="722.5" y="107" font-size="11" fill="#000" font-weight="normal" text-anchor="start" textLength="14.5" lengthAdjust="spacingAndGlyphs" >9,4</text>
<text x="722.5" y="130" font-size="11" fill="#000" font-weight="normal" text-anchor="start" textLength="14.5" lengthAdjust="spacingAndGlyphs" >9,2</text>
<text x="722.5" y="153" font-size="11" fill="#000" font-weight="normal" text-anchor="start" textLength="14.5" lengthAdjust="spacingAndGlyphs" >9,0</text>
<text x="722.5" y="177" font-size="11" fill="#000" font-weight="normal" text-anchor="start" textLength="14.5" lengthAdjust="spacingAndGlyphs" >8,8</text>
<text x="722.5" y="202" font-size="11" fill="#000" font-weight="normal" text-anchor="start" textLength="14.5" lengthAdjust="spacingAndGlyphs" >8,6</text>
<text x="722.5" y="227" font-size="11" fill="#000" font-weight="normal" text-anchor="start" textLength="14.5" lengthAdjust="spacingAndGlyphs" >8,4</text>
<text x="722.5" y="253" font-size="11" fill="#000" font-weight="normal" text-anchor="start" textLength="14.5" lengthAdjust="spacingAndGlyphs" >8,2</text>
<text x="722.5" y="279" font-size="11" fill="#000" font-weight="normal" text-anchor="start" textLength="14.5" lengthAdjust="spacingAndGlyphs" >8,0</text>
<text x="722.5" y="306" font-size="11" fill="#000" font-weight="normal" text-anchor="start" textLength="14.5" lengthAdjust="spacingAndGlyphs" >7,8</text>
<text x="722.5" y="334" font-size="11" fill="#000" font-weight="normal" text-anchor="start" textLength="14.5" lengthAdjust="spacingAndGlyphs" >7,6</text>
<text x="722.5" y="362" font-size="11" fill="#000" font-weight="normal" text-anchor="start" textLength="14.5" lengthAdjust="spacingAndGlyphs" >7,4</text>
<text x="722.5" y="391" font-size="11" fill="#000" font-weight="normal" text-anchor="start" textLength="14.5" lengthAdjust="spacingAndGlyphs" >7,2</text>
<text x="722.5" y="421" font-size="11" fill="#000" font-weight="normal" text-anchor="start" textLength="14.5" lengthAdjust="spacingAndGlyphs" >7,0</text>
<text x="722.5" y="452" font-size="11" fill="#000" font-weight="normal" text-anchor="start" textLength="14.5" lengthAdjust="spacingAndGlyphs" >6,8</text>
<text x="47.6" y="495" font-size="11" fill="#000" font-weight="normal" text-anchor="middle" >09.</text>
<text x="90.6" y="495" font-size="11" fill="#000" font-weight="normal" text-anchor="middle" >16.</text>
<text x="132.6" y="495" font-size="11" fill="#000" font-weight="normal" text-anchor="middle" >23.</text>
<text x="192.6" y="495" font-size="11" fill="#000" font-weight="normal" text-anchor="middle" >01.</text>
<text x="192" y="507" font-size="10" fill="#000" font-weight="normal" text-anchor="middle" >Juni</text>
<text x="234.1" y="495" font-size="11" fill="#000" font-weight="normal" text-anchor="middle" >08.</text>
<text x="276.6" y="495" font-size="11" fill="#000" font-weight="normal" text-anchor="middle" >15.</text>
<text x="318.6" y="495" font-size="11" fill="#000" font-weight="normal" text-anchor="middle" >22.</text>
<text x="369.40000000000003" y="495" font-size="11" fill="#000" font-weight="normal" text-anchor="middle" >02.</text>
<text x="368.8" y="507" font-size="10" fill="#000" font-weight="normal" text-anchor="middle" >Juli</text>
<text x="412.6" y="495" font-size="11" fill="#000" font-weight="normal" text-anchor="middle" >09.</text>
<text x="453.6" y="495" font-size="11" fill="#000" font-weight="normal" text-anchor="middle" >16.</text>
<text x="496.6" y="495" font-size="11" fill="#000" font-weight="normal" text-anchor="middle" >23.</text>
<text x="554.6" y="495" font-size="11" fill="#000" font-weight="normal" text-anchor="middle" >01.</text>
<text x="554" y="507" font-size="10" fill="#000" font-weight="normal" text-anchor="middle" >Aug.</text>
<text x="595.6" y="495" font-size="11" fill="#000" font-weight="normal" text-anchor="middle" >08.</text>
<text x="638.3000000000001" y="495" font-size="11" fill="#000" font-weight="normal" text-anchor="middle" >15.</text>
<text x="680.6" y="495" font-size="11" fill="#000" font-weight="normal" text-anchor="middle" >22.</text>
<text x="7" y="480.5" font-size="11" fill="#9a9a9a" font-weight="normal" text-anchor="start" textLength="169" lengthAdjust="spacingAndGlyphs" >02.05.12 − 28.08.12&#160;&#160;&#160;1 Tick = 1 Tag</text>
<ellipse cx="169" cy="154.5" rx="70.3" ry="78.4" fill="none" stroke="#000" stroke-width="5.2"/>
<text x="123.8" y="158.2" font-size="33" fill="#000" font-weight="bold" text-anchor="start" textLength="99.5" lengthAdjust="spacingAndGlyphs" >ex DiV</text>
<text x="375.4" y="62" font-size="23" fill="#000" font-weight="bold" text-anchor="start" textLength="54" lengthAdjust="spacingAndGlyphs" >2012</text>
<rect x="164.4" y="291.4" width="432.2" height="91.8" rx="12" ry="12" fill="none" stroke="#ed1c24" stroke-width="5"/>
<text x="230.0" y="360.2" font-size="62.5" fill="#00a2e8" font-weight="bold" text-anchor="start" textLength="220.5" lengthAdjust="spacingAndGlyphs" >KONSO</text>
<ellipse cx="560.2" cy="248.3" rx="40.5" ry="46.4" fill="none" stroke="#00a2e8" stroke-width="4.6"/>
<rect x="524.5" y="279.4" width="46.9" height="20.8" fill="none" stroke="#a349a4" stroke-width="3"/>
<text x="457.5" y="199" font-size="23" fill="#00a2e8" font-weight="bold" text-anchor="start" textLength="111.5" lengthAdjust="spacingAndGlyphs" >vorläufige</text>
<text x="457.5" y="226.5" font-size="23" fill="#00a2e8" font-weight="bold" text-anchor="start" textLength="124" lengthAdjust="spacingAndGlyphs" >Hj.1 Zahlen</text>
<text x="457.5" y="253.5" font-size="23" fill="#00a2e8" font-weight="bold" text-anchor="start" textLength="76" lengthAdjust="spacingAndGlyphs" >am 1.8.</text>
<text x="554.5" y="257" font-size="16" fill="#b97a57" font-weight="bold" text-anchor="start" textLength="94.5" lengthAdjust="spacingAndGlyphs" >Hüpfer über</text>
<text x="555" y="276" font-size="16" fill="#b97a57" font-weight="bold" text-anchor="start" textLength="115" lengthAdjust="spacingAndGlyphs" >das obere.  BB</text>
<path d="M532.5,356 C550,368.5 560,375.5 571,383.5 C590,398 600,406 607,414 C615,423 615,432 609,439 C605,443 600,446 596,449" fill="none" stroke="#000" stroke-width="2.6" stroke-linecap="round"/>
<text x="441.5" y="463.8" font-size="27" fill="#000" font-weight="bold" text-anchor="start" textLength="149" lengthAdjust="spacingAndGlyphs" >BB verengt</text>
<g shape-rendering="crispEdges">
<rect x="14.5" y="558.5" width="716" height="467" fill="none" stroke="#d2d2d2"/>
</g>
<polygon points="19.0,698.0 23.7,696.9 30.0,696.3 34.4,696.8 39.0,697.8 43.4,699.8 49.0,705.3 54.6,711.4 58.8,714.4 63.3,717.0 68.0,719.2 73.0,721.3 78.3,722.9 83.6,723.0 88.7,720.7 93.8,716.9 99.2,712.5 103.6,709.0 108.2,705.1 112.8,701.0 117.0,697.0 121.8,691.8 126.1,686.6 130.4,681.3 133.7,677.2 136.9,673.0 140.3,668.8 143.8,664.6 147.5,660.1 151.2,655.5 155.3,651.1 160.0,647.3 163.5,645.1 167.3,643.2 171.4,641.5 175.5,639.9 179.8,638.5 184.2,637.3 188.1,636.4 192.3,635.6 196.6,635.0 200.9,634.4 205.0,634.0 208.9,633.6 212.3,633.3 217.2,633.3 221.1,633.8 224.7,634.1 228.4,633.3 232.4,631.2 236.4,628.1 240.4,624.6 244.4,621.2 248.4,617.8 252.5,614.3 256.5,610.8 260.5,607.2 264.5,603.4 268.5,599.4 272.5,595.8 276.5,593.0 280.5,591.3 284.6,590.4 288.6,590.1 292.6,590.0 296.6,590.1 300.6,590.6 304.6,591.5 308.6,593.0 312.5,595.1 316.4,597.8 320.4,601.1 324.7,605.0 328.5,608.7 332.7,613.0 337.0,617.6 341.0,622.4 344.7,627.2 347.4,631.3 349.7,635.5 351.9,639.8 354.1,644.2 356.2,648.6 358.5,653.0 360.9,657.5 363.4,662.0 365.9,666.5 368.4,671.1 370.8,675.6 373.0,680.0 375.1,684.3 377.0,688.6 378.8,692.8 380.6,696.9 382.3,701.0 384.0,705.0 385.9,709.4 387.7,713.4 389.5,717.4 391.2,722.0 392.9,727.6 393.7,731.0 394.6,734.7 395.4,738.7 396.2,743.0 397.0,747.3 397.8,751.7 398.6,756.0 399.4,760.2 400.2,764.1 401.0,767.7 402.4,773.2 403.8,778.4 405.2,783.3 406.6,787.8 408.1,791.9 409.5,795.6 412.4,801.2 415.3,805.2 418.4,809.0 423.7,814.5 429.5,820.0 433.5,824.7 437.8,829.7 442.3,833.6 447.1,835.3 452.3,835.9 457.9,837.0 461.7,838.3 465.7,840.0 469.9,841.7 474.1,843.4 478.0,844.8 482.8,846.3 487.6,847.7 492.0,848.7 495.8,849.3 500.5,849.1 504.7,847.0 508.8,843.8 513.4,839.6 518.0,835.9 522.7,833.3 527.5,831.3 531.5,829.2 538.0,822.5 541.6,818.9 546.0,814.5 550.7,810.0 555.0,806.0 559.9,801.7 564.4,798.0 569.4,794.6 573.7,792.1 578.2,789.7 582.8,787.6 587.2,785.7 592.4,784.0 597.4,782.7 602.8,781.2 607.4,779.7 612.3,778.0 617.3,776.3 622.3,774.6 626.4,773.0 630.7,771.2 635.0,769.5 638.9,768.3 642.4,768.0 648.4,771.7 653.5,776.9 657.5,779.1 661.7,780.9 666.9,782.4 670.9,783.2 675.4,784.0 680.2,784.6 684.9,785.1 689.2,785.3 693.9,785.2 698.3,784.7 702.6,784.1 707.0,783.5 712.1,782.9 717.6,782.3 722.6,781.7 726.0,781.3 726.0,839.3 722.4,839.6 717.1,840.1 711.5,841.0 707.2,842.1 702.6,843.5 698.0,845.1 693.6,847.0 688.1,850.0 682.9,853.5 678.0,857.0 673.3,860.4 668.9,863.7 664.7,867.2 659.0,872.2 653.5,878.3 650.9,882.6 648.5,887.7 645.8,892.8 642.4,897.3 638.8,900.5 634.7,903.6 630.2,906.4 626.0,908.8 622.3,910.6 617.4,911.9 613.4,911.8 609.5,912.0 603.6,913.7 598.4,916.0 591.7,921.7 586.5,926.3 580.5,930.6 576.6,932.6 572.4,934.0 567.2,934.6 563.3,934.4 558.9,933.8 554.3,932.9 549.5,932.1 544.9,931.3 540.4,930.7 536.0,930.1 531.5,929.5 527.1,928.9 522.6,928.4 518.1,927.9 513.5,927.5 508.9,927.2 504.4,926.8 500.0,926.5 495.8,926.2 491.6,925.9 487.5,925.7 483.7,925.4 480.0,925.0 474.2,924.2 468.9,923.3 464.6,922.4 457.9,919.5 452.6,918.6 446.8,918.4 440.9,919.7 435.6,921.7 429.5,926.0 425.5,927.7 420.7,929.6 416.1,931.6 410.1,934.5 405.0,938.3 402.5,942.1 400.5,946.7 398.3,951.7 396.2,956.0 394.0,960.9 391.7,965.6 389.4,969.5 385.1,974.8 380.5,978.4 374.9,981.1 369.3,982.5 365.0,982.4 360.4,980.7 356.4,978.6 352.0,975.8 347.0,971.7 343.7,968.5 340.2,964.9 336.5,960.9 332.8,956.5 329.2,951.7 326.6,948.0 324.0,943.9 321.3,939.7 318.7,935.3 316.1,930.9 313.6,926.7 311.3,922.7 308.8,918.4 306.5,914.3 304.4,910.3 302.3,906.4 300.2,902.4 298.0,898.2 295.7,893.8 293.5,889.4 291.2,884.8 288.9,880.2 286.7,875.8 284.6,871.4 282.6,867.2 280.7,863.1 278.8,859.1 276.9,855.1 275.2,851.1 273.4,846.9 271.6,842.5 269.9,837.9 268.2,833.3 266.6,828.7 265.0,824.5 263.6,820.7 261.2,814.5 259.2,809.5 256.9,805.0 252.3,799.1 248.0,794.0 246.2,790.3 243.5,785.0 241.3,781.6 238.4,777.3 235.2,772.5 232.0,767.9 229.1,763.9 226.8,761.0 221.2,759.4 217.5,761.9 213.0,765.7 207.8,769.4 203.4,771.7 198.7,773.8 193.6,775.9 188.4,777.9 184.0,779.4 179.4,780.8 174.8,782.2 170.2,783.6 166.0,785.0 161.1,787.0 156.5,789.2 152.2,791.2 148.2,792.8 143.2,794.2 138.7,795.1 134.9,795.5 128.0,794.0 124.3,792.4 120.0,790.2 115.5,788.0 110.8,785.4 106.0,782.8 101.5,781.0 95.5,781.3 90.5,782.3 84.3,780.3 79.0,783.5 73.4,788.0 68.6,791.6 64.0,796.0 60.8,799.8 57.6,804.3 54.6,810.0 53.2,813.6 52.0,817.7 50.7,822.1 49.5,826.6 48.2,831.0 46.8,835.0 44.9,839.5 42.9,843.9 40.7,848.1 38.7,851.9 36.7,855.2 32.3,860.5 28.1,864.6 23.0,870.6 19.0,875.5" fill="#ecf3fc"/>
<polyline points="19.0,698.0 23.7,696.9 30.0,696.3 34.4,696.8 39.0,697.8 43.4,699.8 49.0,705.3 54.6,711.4 58.8,714.4 63.3,717.0 68.0,719.2 73.0,721.3 78.3,722.9 83.6,723.0 88.7,720.7 93.8,716.9 99.2,712.5 103.6,709.0 108.2,705.1 112.8,701.0 117.0,697.0 121.8,691.8 126.1,686.6 130.4,681.3 133.7,677.2 136.9,673.0 140.3,668.8 143.8,664.6 147.5,660.1 151.2,655.5 155.3,651.1 160.0,647.3 163.5,645.1 167.3,643.2 171.4,641.5 175.5,639.9 179.8,638.5 184.2,637.3 188.1,636.4 192.3,635.6 196.6,635.0 200.9,634.4 205.0,634.0 208.9,633.6 212.3,633.3 217.2,633.3 221.1,633.8 224.7,634.1 228.4,633.3 232.4,631.2 236.4,628.1 240.4,624.6 244.4,621.2 248.4,617.8 252.5,614.3 256.5,610.8 260.5,607.2 264.5,603.4 268.5,599.4 272.5,595.8 276.5,593.0 280.5,591.3 284.6,590.4 288.6,590.1 292.6,590.0 296.6,590.1 300.6,590.6 304.6,591.5 308.6,593.0 312.5,595.1 316.4,597.8 320.4,601.1 324.7,605.0 328.5,608.7 332.7,613.0 337.0,617.6 341.0,622.4 344.7,627.2 347.4,631.3 349.7,635.5 351.9,639.8 354.1,644.2 356.2,648.6 358.5,653.0 360.9,657.5 363.4,662.0 365.9,666.5 368.4,671.1 370.8,675.6 373.0,680.0 375.1,684.3 377.0,688.6 378.8,692.8 380.6,696.9 382.3,701.0 384.0,705.0 385.9,709.4 387.7,713.4 389.5,717.4 391.2,722.0 392.9,727.6 393.7,731.0 394.6,734.7 395.4,738.7 396.2,743.0 397.0,747.3 397.8,751.7 398.6,756.0 399.4,760.2 400.2,764.1 401.0,767.7 402.4,773.2 403.8,778.4 405.2,783.3 406.6,787.8 408.1,791.9 409.5,795.6 412.4,801.2 415.3,805.2 418.4,809.0 423.7,814.5 429.5,820.0 433.5,824.7 437.8,829.7 442.3,833.6 447.1,835.3 452.3,835.9 457.9,837.0 461.7,838.3 465.7,840.0 469.9,841.7 474.1,843.4 478.0,844.8 482.8,846.3 487.6,847.7 492.0,848.7 495.8,849.3 500.5,849.1 504.7,847.0 508.8,843.8 513.4,839.6 518.0,835.9 522.7,833.3 527.5,831.3 531.5,829.2 538.0,822.5 541.6,818.9 546.0,814.5 550.7,810.0 555.0,806.0 559.9,801.7 564.4,798.0 569.4,794.6 573.7,792.1 578.2,789.7 582.8,787.6 587.2,785.7 592.4,784.0 597.4,782.7 602.8,781.2 607.4,779.7 612.3,778.0 617.3,776.3 622.3,774.6 626.4,773.0 630.7,771.2 635.0,769.5 638.9,768.3 642.4,768.0 648.4,771.7 653.5,776.9 657.5,779.1 661.7,780.9 666.9,782.4 670.9,783.2 675.4,784.0 680.2,784.6 684.9,785.1 689.2,785.3 693.9,785.2 698.3,784.7 702.6,784.1 707.0,783.5 712.1,782.9 717.6,782.3 722.6,781.7 726.0,781.3" fill="none" stroke="#92afe3" stroke-width="1" shape-rendering="crispEdges"/>
<polyline points="19.0,875.5 23.0,870.6 28.1,864.6 32.3,860.5 36.7,855.2 38.7,851.9 40.7,848.1 42.9,843.9 44.9,839.5 46.8,835.0 48.2,831.0 49.5,826.6 50.7,822.1 52.0,817.7 53.2,813.6 54.6,810.0 57.6,804.3 60.8,799.8 64.0,796.0 68.6,791.6 73.4,788.0 79.0,783.5 84.3,780.3 90.5,782.3 95.5,781.3 101.5,781.0 106.0,782.8 110.8,785.4 115.5,788.0 120.0,790.2 124.3,792.4 128.0,794.0 134.9,795.5 138.7,795.1 143.2,794.2 148.2,792.8 152.2,791.2 156.5,789.2 161.1,787.0 166.0,785.0 170.2,783.6 174.8,782.2 179.4,780.8 184.0,779.4 188.4,777.9 193.6,775.9 198.7,773.8 203.4,771.7 207.8,769.4 213.0,765.7 217.5,761.9 221.2,759.4 226.8,761.0 229.1,763.9 232.0,767.9 235.2,772.5 238.4,777.3 241.3,781.6 243.5,785.0 246.2,790.3 248.0,794.0 252.3,799.1 256.9,805.0 259.2,809.5 261.2,814.5 263.6,820.7 265.0,824.5 266.6,828.7 268.2,833.3 269.9,837.9 271.6,842.5 273.4,846.9 275.2,851.1 276.9,855.1 278.8,859.1 280.7,863.1 282.6,867.2 284.6,871.4 286.7,875.8 288.9,880.2 291.2,884.8 293.5,889.4 295.7,893.8 298.0,898.2 300.2,902.4 302.3,906.4 304.4,910.3 306.5,914.3 308.8,918.4 311.3,922.7 313.6,926.7 316.1,930.9 318.7,935.3 321.3,939.7 324.0,943.9 326.6,948.0 329.2,951.7 332.8,956.5 336.5,960.9 340.2,964.9 343.7,968.5 347.0,971.7 352.0,975.8 356.4,978.6 360.4,980.7 365.0,982.4 369.3,982.5 374.9,981.1 380.5,978.4 385.1,974.8 389.4,969.5 391.7,965.6 394.0,960.9 396.2,956.0 398.3,951.7 400.5,946.7 402.5,942.1 405.0,938.3 410.1,934.5 416.1,931.6 420.7,929.6 425.5,927.7 429.5,926.0 435.6,921.7 440.9,919.7 446.8,918.4 452.6,918.6 457.9,919.5 464.6,922.4 468.9,923.3 474.2,924.2 480.0,925.0 483.7,925.4 487.5,925.7 491.6,925.9 495.8,926.2 500.0,926.5 504.4,926.8 508.9,927.2 513.5,927.5 518.1,927.9 522.6,928.4 527.1,928.9 531.5,929.5 536.0,930.1 540.4,930.7 544.9,931.3 549.5,932.1 554.3,932.9 558.9,933.8 563.3,934.4 567.2,934.6 572.4,934.0 576.6,932.6 580.5,930.6 586.5,926.3 591.7,921.7 598.4,916.0 603.6,913.7 609.5,912.0 613.4,911.8 617.4,911.9 622.3,910.6 626.0,908.8 630.2,906.4 634.7,903.6 638.8,900.5 642.4,897.3 645.8,892.8 648.5,887.7 650.9,882.6 653.5,878.3 659.0,872.2 664.7,867.2 668.9,863.7 673.3,860.4 678.0,857.0 682.9,853.5 688.1,850.0 693.6,847.0 698.0,845.1 702.6,843.5 707.2,842.1 711.5,841.0 717.1,840.1 722.4,839.6 726.0,839.3" fill="none" stroke="#92afe3" stroke-width="1" shape-rendering="crispEdges"/>
<polyline points="19.0,782.6 22.2,781.0 26.7,778.7 31.8,776.0 36.7,773.3 41.3,770.4 45.9,767.3 50.4,764.2 54.6,761.6 59.1,759.0 63.0,756.9 68.0,754.9 71.7,753.7 75.9,752.6 80.3,751.5 85.1,750.3 90.3,748.9 94.4,747.7 99.0,746.4 103.8,745.0 108.6,743.5 113.3,742.1 117.7,740.6 121.5,739.3 126.7,737.3 130.7,735.5 134.5,733.5 139.3,730.8 143.3,728.3 147.7,725.4 152.4,722.2 157.1,719.1 161.7,716.1 166.0,713.6 170.7,711.2 175.2,709.2 179.5,707.5 183.9,705.9 188.4,704.3 193.1,702.6 197.9,700.9 202.8,699.3 207.6,698.0 212.3,697.0 216.8,696.4 221.1,696.0 225.4,695.9 229.9,696.2 234.6,697.0 238.8,698.0 243.3,699.4 247.8,701.0 252.4,702.9 256.9,704.9 261.3,707.0 265.6,709.3 270.0,711.8 274.3,714.5 278.4,717.3 282.3,720.0 285.9,722.6 291.5,727.2 296.1,731.7 301.5,737.0 305.5,740.7 309.9,744.7 314.6,749.0 319.2,753.5 323.8,758.2 327.5,762.4 331.3,766.8 335.1,771.4 338.8,776.1 342.5,780.6 346.0,785.0 349.3,789.1 352.4,793.1 355.4,797.1 358.5,801.0 361.6,804.9 364.9,809.0 368.5,813.2 372.2,817.5 376.1,821.8 380.0,826.2 383.7,830.4 387.2,834.6 391.1,839.6 394.9,844.7 398.4,849.6 401.8,854.1 405.0,858.0 409.9,863.0 414.3,866.6 418.4,869.2 423.7,870.8 429.0,871.6 432.9,872.9 437.1,874.4 442.3,876.0 446.3,877.1 450.8,878.3 455.6,879.5 460.3,880.7 464.6,881.6 469.3,882.4 473.5,883.0 477.7,883.4 482.4,883.8 486.7,884.1 491.3,884.4 496.0,884.6 500.6,884.7 504.7,884.5 510.2,883.8 515.0,882.6 520.3,881.0 524.1,879.8 528.1,878.4 532.3,876.8 536.5,875.3 540.4,873.8 545.0,872.1 549.4,870.4 553.8,868.8 558.2,867.0 562.6,865.2 567.1,863.4 571.5,861.4 576.0,859.3 580.5,856.9 585.1,854.2 589.7,851.6 594.0,849.3 599.5,846.9 604.6,844.8 609.5,843.2 613.6,842.3 617.4,841.8 622.3,840.4 626.2,838.7 630.5,836.4 635.2,833.9 640.0,831.4 644.6,829.3 649.1,827.5 653.5,825.8 658.0,824.3 662.4,822.9 666.9,821.5 671.4,820.2 676.0,819.0 680.6,817.9 685.0,816.8 689.2,815.9 693.9,814.9 698.3,814.1 702.6,813.3 707.0,812.5 712.1,811.4 717.6,810.3 722.6,809.2 726.0,808.5" fill="none" stroke="#ffc800" stroke-width="1" shape-rendering="crispEdges"/>

<g shape-rendering="crispEdges"><rect x="19" y="724" width="1" height="17" fill="#000"/>
<rect x="15" y="727" width="9" height="8" fill="#000"/>
<rect x="16" y="728" width="7" height="6" fill="#3cf03c"/>
<rect x="28" y="727" width="1" height="18" fill="#000"/>
<rect x="24" y="728" width="9" height="8" fill="#000"/>
<rect x="25" y="729" width="7" height="6" fill="#f54343"/>
<rect x="37" y="727" width="1" height="36" fill="#000"/>
<rect x="33" y="734" width="9" height="25" fill="#000"/>
<rect x="34" y="735" width="7" height="23" fill="#f54343"/>
<rect x="46" y="744" width="1" height="21" fill="#000"/>
<rect x="42" y="745" width="9" height="15" fill="#000"/>
<rect x="43" y="746" width="7" height="13" fill="#3cf03c"/>
<rect x="55" y="733" width="1" height="11" fill="#000"/>
<rect x="51" y="736" width="9" height="4" fill="#000"/>
<rect x="52" y="737" width="7" height="2" fill="#3cf03c"/>
<rect x="64" y="723" width="1" height="26" fill="#000"/>
<rect x="60" y="724" width="9" height="19" fill="#000"/>
<rect x="61" y="725" width="7" height="17" fill="#f54343"/>
<rect x="74" y="736" width="1" height="26" fill="#000"/>
<rect x="70" y="741" width="9" height="9" fill="#000"/>
<rect x="71" y="742" width="7" height="7" fill="#f54343"/>
<rect x="83" y="736" width="1" height="14" fill="#000"/>
<rect x="79" y="743" width="9" height="2" fill="#000"/>
<rect x="92" y="711" width="1" height="28" fill="#000"/>
<rect x="88" y="716" width="9" height="21" fill="#000"/>
<rect x="89" y="717" width="7" height="19" fill="#3cf03c"/>
<rect x="101" y="707" width="1" height="9" fill="#000"/>
<rect x="97" y="710" width="9" height="5" fill="#000"/>
<rect x="98" y="711" width="7" height="3" fill="#f54343"/>
<rect x="110" y="691" width="1" height="20" fill="#000"/>
<rect x="106" y="694" width="9" height="14" fill="#000"/>
<rect x="107" y="695" width="7" height="12" fill="#3cf03c"/>
<rect x="120" y="665" width="1" height="28" fill="#000"/>
<rect x="116" y="684" width="9" height="2" fill="#000"/>
<rect x="129" y="667" width="1" height="15" fill="#000"/>
<rect x="125" y="671" width="9" height="6" fill="#000"/>
<rect x="126" y="672" width="7" height="4" fill="#3cf03c"/>
<rect x="138" y="671" width="1" height="21" fill="#000"/>
<rect x="134" y="671" width="9" height="10" fill="#000"/>
<rect x="135" y="672" width="7" height="8" fill="#3cf03c"/>
<rect x="147" y="657" width="1" height="15" fill="#000"/>
<rect x="143" y="663" width="9" height="6" fill="#000"/>
<rect x="144" y="664" width="7" height="4" fill="#3cf03c"/>
<rect x="156" y="652" width="1" height="15" fill="#000"/>
<rect x="152" y="659" width="9" height="4" fill="#000"/>
<rect x="153" y="660" width="7" height="2" fill="#f54343"/>
<rect x="165" y="657" width="1" height="10" fill="#000"/>
<rect x="161" y="659" width="9" height="2" fill="#000"/>
<rect x="175" y="658" width="1" height="13" fill="#000"/>
<rect x="171" y="658" width="9" height="2" fill="#000"/>
<rect x="184" y="642" width="1" height="47" fill="#000"/>
<rect x="180" y="644" width="9" height="35" fill="#000"/>
<rect x="181" y="645" width="7" height="33" fill="#f54343"/>
<rect x="193" y="664" width="1" height="20" fill="#000"/>
<rect x="189" y="664" width="9" height="11" fill="#000"/>
<rect x="190" y="665" width="7" height="9" fill="#f54343"/>
<rect x="202" y="665" width="1" height="22" fill="#000"/>
<rect x="198" y="667" width="9" height="14" fill="#000"/>
<rect x="199" y="668" width="7" height="12" fill="#f54343"/>
<rect x="211" y="675" width="1" height="9" fill="#000"/>
<rect x="207" y="675" width="9" height="3" fill="#000"/>
<rect x="208" y="676" width="7" height="1" fill="#f54343"/>
<rect x="221" y="674" width="1" height="21" fill="#000"/>
<rect x="217" y="676" width="9" height="12" fill="#000"/>
<rect x="218" y="677" width="7" height="10" fill="#f54343"/>
<rect x="230" y="755" width="1" height="19" fill="#000"/>
<rect x="226" y="760" width="9" height="14" fill="#000"/>
<rect x="227" y="761" width="7" height="12" fill="#3cf03c"/>
<rect x="239" y="756" width="1" height="53" fill="#000"/>
<rect x="235" y="759" width="9" height="43" fill="#000"/>
<rect x="236" y="760" width="7" height="41" fill="#f54343"/>
<rect x="248" y="804" width="1" height="45" fill="#000"/>
<rect x="244" y="808" width="9" height="7" fill="#000"/>
<rect x="245" y="809" width="7" height="5" fill="#f54343"/>
<rect x="257" y="804" width="1" height="23" fill="#000"/>
<rect x="253" y="814" width="9" height="2" fill="#000"/>
<rect x="266" y="825" width="1" height="27" fill="#000"/>
<rect x="262" y="838" width="9" height="4" fill="#000"/>
<rect x="263" y="839" width="7" height="2" fill="#f54343"/>
<rect x="276" y="840" width="1" height="42" fill="#000"/>
<rect x="272" y="842" width="9" height="19" fill="#000"/>
<rect x="273" y="843" width="7" height="17" fill="#f54343"/>
<rect x="285" y="845" width="1" height="22" fill="#000"/>
<rect x="281" y="852" width="9" height="9" fill="#000"/>
<rect x="282" y="853" width="7" height="7" fill="#3cf03c"/>
<rect x="294" y="833" width="1" height="16" fill="#000"/>
<rect x="290" y="843" width="9" height="4" fill="#000"/>
<rect x="291" y="844" width="7" height="2" fill="#3cf03c"/>
<rect x="303" y="839" width="1" height="24" fill="#000"/>
<rect x="299" y="842" width="9" height="13" fill="#000"/>
<rect x="300" y="843" width="7" height="11" fill="#f54343"/>
<rect x="312" y="847" width="1" height="18" fill="#000"/>
<rect x="308" y="852" width="9" height="6" fill="#000"/>
<rect x="309" y="853" width="7" height="4" fill="#3cf03c"/>
<rect x="322" y="845" width="1" height="36" fill="#000"/>
<rect x="318" y="848" width="9" height="26" fill="#000"/>
<rect x="319" y="849" width="7" height="24" fill="#f54343"/>
<rect x="331" y="881" width="1" height="36" fill="#000"/>
<rect x="327" y="881" width="9" height="3" fill="#000"/>
<rect x="328" y="882" width="7" height="1" fill="#3cf03c"/>
<rect x="340" y="848" width="1" height="36" fill="#000"/>
<rect x="336" y="875" width="9" height="2" fill="#000"/>
<rect x="349" y="870" width="1" height="25" fill="#000"/>
<rect x="345" y="876" width="9" height="15" fill="#000"/>
<rect x="346" y="877" width="7" height="13" fill="#f54343"/>
<rect x="358" y="886" width="1" height="15" fill="#000"/>
<rect x="354" y="890" width="9" height="7" fill="#000"/>
<rect x="355" y="891" width="7" height="5" fill="#f54343"/>
<rect x="367" y="872" width="1" height="32" fill="#000"/>
<rect x="363" y="883" width="9" height="10" fill="#000"/>
<rect x="364" y="884" width="7" height="8" fill="#3cf03c"/>
<rect x="377" y="874" width="1" height="20" fill="#000"/>
<rect x="373" y="876" width="9" height="14" fill="#000"/>
<rect x="374" y="877" width="7" height="12" fill="#f54343"/>
<rect x="386" y="886" width="1" height="16" fill="#000"/>
<rect x="382" y="889" width="9" height="2" fill="#000"/>
<rect x="395" y="887" width="1" height="14" fill="#000"/>
<rect x="391" y="889" width="9" height="4" fill="#000"/>
<rect x="392" y="890" width="7" height="2" fill="#f54343"/>
<rect x="404" y="905" width="1" height="42" fill="#000"/>
<rect x="400" y="905" width="9" height="17" fill="#000"/>
<rect x="401" y="906" width="7" height="15" fill="#f54343"/>
<rect x="413" y="908" width="1" height="12" fill="#000"/>
<rect x="409" y="912" width="9" height="2" fill="#000"/>
<rect x="422" y="872" width="1" height="35" fill="#000"/>
<rect x="418" y="874" width="9" height="33" fill="#000"/>
<rect x="419" y="875" width="7" height="31" fill="#3cf03c"/>
<rect x="432" y="854" width="1" height="26" fill="#000"/>
<rect x="428" y="857" width="9" height="14" fill="#000"/>
<rect x="429" y="858" width="7" height="12" fill="#3cf03c"/>
<rect x="441" y="848" width="1" height="11" fill="#000"/>
<rect x="437" y="852" width="9" height="4" fill="#000"/>
<rect x="438" y="853" width="7" height="2" fill="#f54343"/>
<rect x="450" y="862" width="1" height="28" fill="#000"/>
<rect x="446" y="866" width="9" height="18" fill="#000"/>
<rect x="447" y="867" width="7" height="16" fill="#f54343"/>
<rect x="459" y="868" width="1" height="28" fill="#000"/>
<rect x="455" y="879" width="9" height="12" fill="#000"/>
<rect x="456" y="880" width="7" height="10" fill="#f54343"/>
<rect x="468" y="888" width="1" height="35" fill="#000"/>
<rect x="464" y="896" width="9" height="24" fill="#000"/>
<rect x="465" y="897" width="7" height="22" fill="#f54343"/>
<rect x="478" y="886" width="1" height="37" fill="#000"/>
<rect x="474" y="892" width="9" height="28" fill="#000"/>
<rect x="475" y="893" width="7" height="26" fill="#3cf03c"/>
<rect x="487" y="866" width="1" height="32" fill="#000"/>
<rect x="483" y="868" width="9" height="30" fill="#000"/>
<rect x="484" y="869" width="7" height="28" fill="#3cf03c"/>
<rect x="496" y="856" width="1" height="16" fill="#000"/>
<rect x="492" y="858" width="9" height="3" fill="#000"/>
<rect x="493" y="859" width="7" height="1" fill="#3cf03c"/>
<rect x="514" y="850" width="1" height="18" fill="#000"/>
<rect x="510" y="853" width="9" height="4" fill="#000"/>
<rect x="511" y="854" width="7" height="2" fill="#3cf03c"/>
<rect x="523" y="830" width="1" height="35" fill="#000"/>
<rect x="519" y="832" width="9" height="21" fill="#000"/>
<rect x="520" y="833" width="7" height="19" fill="#3cf03c"/>
<rect x="533" y="837" width="1" height="20" fill="#000"/>
<rect x="529" y="840" width="9" height="4" fill="#000"/>
<rect x="530" y="841" width="7" height="2" fill="#3cf03c"/>
<rect x="542" y="804" width="1" height="42" fill="#000"/>
<rect x="538" y="818" width="9" height="20" fill="#000"/>
<rect x="539" y="819" width="7" height="18" fill="#3cf03c"/>
<rect x="551" y="806" width="1" height="31" fill="#000"/>
<rect x="547" y="809" width="9" height="24" fill="#000"/>
<rect x="548" y="810" width="7" height="22" fill="#f54343"/>
<rect x="560" y="801" width="1" height="28" fill="#000"/>
<rect x="556" y="803" width="9" height="26" fill="#000"/>
<rect x="557" y="804" width="7" height="24" fill="#3cf03c"/>
<rect x="569" y="794" width="1" height="22" fill="#000"/>
<rect x="565" y="798" width="9" height="7" fill="#000"/>
<rect x="566" y="799" width="7" height="5" fill="#f54343"/>
<rect x="579" y="801" width="1" height="18" fill="#000"/>
<rect x="575" y="805" width="9" height="10" fill="#000"/>
<rect x="576" y="806" width="7" height="8" fill="#f54343"/>
<rect x="588" y="796" width="1" height="16" fill="#000"/>
<rect x="584" y="798" width="9" height="6" fill="#000"/>
<rect x="585" y="799" width="7" height="4" fill="#3cf03c"/>
<rect x="597" y="794" width="1" height="23" fill="#000"/>
<rect x="593" y="802" width="9" height="12" fill="#000"/>
<rect x="594" y="803" width="7" height="10" fill="#f54343"/>
<rect x="606" y="803" width="1" height="13" fill="#000"/>
<rect x="602" y="805" width="9" height="7" fill="#000"/>
<rect x="603" y="806" width="7" height="5" fill="#f54343"/>
<rect x="615" y="806" width="1" height="21" fill="#000"/>
<rect x="611" y="808" width="9" height="13" fill="#000"/>
<rect x="612" y="809" width="7" height="11" fill="#f54343"/>
<rect x="624" y="800" width="1" height="24" fill="#000"/>
<rect x="620" y="806" width="9" height="11" fill="#000"/>
<rect x="621" y="807" width="7" height="9" fill="#3cf03c"/>
<rect x="634" y="790" width="1" height="20" fill="#000"/>
<rect x="630" y="799" width="9" height="8" fill="#000"/>
<rect x="631" y="800" width="7" height="6" fill="#3cf03c"/>
<rect x="643" y="790" width="1" height="15" fill="#000"/>
<rect x="639" y="796" width="9" height="2" fill="#000"/>
<rect x="652" y="794" width="1" height="36" fill="#000"/>
<rect x="648" y="798" width="9" height="28" fill="#000"/>
<rect x="649" y="799" width="7" height="26" fill="#f54343"/>
<rect x="661" y="817" width="1" height="74" fill="#000"/>
<rect x="657" y="823" width="9" height="26" fill="#000"/>
<rect x="658" y="824" width="7" height="24" fill="#f54343"/>
<rect x="670" y="808" width="1" height="56" fill="#000"/>
<rect x="666" y="812" width="9" height="34" fill="#000"/>
<rect x="667" y="813" width="7" height="32" fill="#3cf03c"/>
<rect x="680" y="811" width="1" height="21" fill="#000"/>
<rect x="676" y="816" width="9" height="4" fill="#000"/>
<rect x="677" y="817" width="7" height="2" fill="#f54343"/>
<rect x="689" y="804" width="1" height="24" fill="#000"/>
<rect x="685" y="808" width="9" height="9" fill="#000"/>
<rect x="686" y="809" width="7" height="7" fill="#3cf03c"/>
<rect x="698" y="790" width="1" height="19" fill="#000"/>
<rect x="694" y="792" width="9" height="13" fill="#000"/>
<rect x="695" y="793" width="7" height="11" fill="#3cf03c"/>
<rect x="707" y="789" width="1" height="27" fill="#000"/>
<rect x="703" y="796" width="9" height="2" fill="#000"/>
<rect x="716" y="789" width="1" height="21" fill="#000"/>
<rect x="712" y="791" width="9" height="5" fill="#000"/>
<rect x="713" y="792" width="7" height="3" fill="#3cf03c"/>
<rect x="725" y="783" width="1" height="10" fill="#000"/>
<rect x="721" y="786" width="9" height="7" fill="#000"/>
<rect x="722" y="787" width="7" height="5" fill="#3cf03c"/></g>
<g shape-rendering="crispEdges" fill="#dcdcdc"><rect x="19" y="1026" width="1" height="1"/><rect x="28" y="1026" width="1" height="1"/><rect x="37" y="1026" width="1" height="1"/><rect x="46" y="1026" width="1" height="1"/><rect x="55" y="1026" width="1" height="1"/><rect x="64" y="1026" width="1" height="1"/><rect x="74" y="1026" width="1" height="1"/><rect x="83" y="1026" width="1" height="1"/><rect x="92" y="1026" width="1" height="1"/><rect x="101" y="1026" width="1" height="1"/><rect x="110" y="1026" width="1" height="1"/><rect x="120" y="1026" width="1" height="1"/><rect x="129" y="1026" width="1" height="1"/><rect x="138" y="1026" width="1" height="1"/><rect x="147" y="1026" width="1" height="1"/><rect x="156" y="1026" width="1" height="1"/><rect x="165" y="1026" width="1" height="1"/><rect x="175" y="1026" width="1" height="1"/><rect x="184" y="1026" width="1" height="1"/><rect x="193" y="1026" width="1" height="1"/><rect x="202" y="1026" width="1" height="1"/><rect x="211" y="1026" width="1" height="1"/><rect x="221" y="1026" width="1" height="1"/><rect x="230" y="1026" width="1" height="1"/><rect x="239" y="1026" width="1" height="1"/><rect x="248" y="1026" width="1" height="1"/><rect x="257" y="1026" width="1" height="1"/><rect x="266" y="1026" width="1" height="1"/><rect x="276" y="1026" width="1" height="1"/><rect x="285" y="1026" width="1" height="1"/><rect x="294" y="1026" width="1" height="1"/><rect x="303" y="1026" width="1" height="1"/><rect x="312" y="1026" width="1" height="1"/><rect x="322" y="1026" width="1" height="1"/><rect x="331" y="1026" width="1" height="1"/><rect x="340" y="1026" width="1" height="1"/><rect x="349" y="1026" width="1" height="1"/><rect x="358" y="1026" width="1" height="1"/><rect x="367" y="1026" width="1" height="1"/><rect x="377" y="1026" width="1" height="1"/><rect x="386" y="1026" width="1" height="1"/><rect x="395" y="1026" width="1" height="1"/><rect x="404" y="1026" width="1" height="1"/><rect x="413" y="1026" width="1" height="1"/><rect x="422" y="1026" width="1" height="1"/><rect x="432" y="1026" width="1" height="1"/><rect x="441" y="1026" width="1" height="1"/><rect x="450" y="1026" width="1" height="1"/><rect x="459" y="1026" width="1" height="1"/><rect x="468" y="1026" width="1" height="1"/><rect x="478" y="1026" width="1" height="1"/><rect x="487" y="1026" width="1" height="1"/><rect x="496" y="1026" width="1" height="1"/><rect x="514" y="1026" width="1" height="1"/><rect x="523" y="1026" width="1" height="1"/><rect x="533" y="1026" width="1" height="1"/><rect x="542" y="1026" width="1" height="1"/><rect x="551" y="1026" width="1" height="1"/><rect x="560" y="1026" width="1" height="1"/><rect x="569" y="1026" width="1" height="1"/><rect x="579" y="1026" width="1" height="1"/><rect x="588" y="1026" width="1" height="1"/><rect x="597" y="1026" width="1" height="1"/><rect x="606" y="1026" width="1" height="1"/><rect x="615" y="1026" width="1" height="1"/><rect x="624" y="1026" width="1" height="1"/><rect x="634" y="1026" width="1" height="1"/><rect x="643" y="1026" width="1" height="1"/><rect x="652" y="1026" width="1" height="1"/><rect x="661" y="1026" width="1" height="1"/><rect x="670" y="1026" width="1" height="1"/><rect x="680" y="1026" width="1" height="1"/><rect x="689" y="1026" width="1" height="1"/><rect x="698" y="1026" width="1" height="1"/><rect x="707" y="1026" width="1" height="1"/><rect x="716" y="1026" width="1" height="1"/><rect x="725" y="1026" width="1" height="1"/></g>
<g transform="translate(12,0)"><rect x="3.5" y="545.5" width="7" height="7" fill="#3cf03c" stroke="#000" stroke-width="1" shape-rendering="crispEdges"/>
<rect x="111.5" y="545.5" width="7" height="7" fill="#ffc800" stroke="#000" stroke-width="1" shape-rendering="crispEdges"/>
<rect x="203.5" y="545.5" width="7" height="7" fill="#92afe3" stroke="#000" stroke-width="1" shape-rendering="crispEdges"/>
</g>
<text x="27.5" y="553" font-size="11" fill="#000" font-weight="normal" text-anchor="start" textLength="72" lengthAdjust="spacingAndGlyphs" >Drillisch (Xetra)</text>
<text x="134.5" y="553" font-size="11" fill="#000" font-weight="normal" text-anchor="start" textLength="55.5" lengthAdjust="spacingAndGlyphs" >GD 20 Ticks</text>
<text x="227.5" y="553" font-size="11" fill="#000" font-weight="normal" text-anchor="start" textLength="195" lengthAdjust="spacingAndGlyphs" >Bollinger (20, 2): 13,076785 − 13,919715</text>
<text x="734" y="591" font-size="11" fill="#000" font-weight="normal" text-anchor="start" textLength="20.5" lengthAdjust="spacingAndGlyphs" >17,0</text>
<text x="734" y="620" font-size="11" fill="#000" font-weight="normal" text-anchor="start" textLength="20.5" lengthAdjust="spacingAndGlyphs" >16,5</text>
<text x="734" y="649" font-size="11" fill="#000" font-weight="normal" text-anchor="start" textLength="20.5" lengthAdjust="spacingAndGlyphs" >16,0</text>
<text x="734" y="680" font-size="11" fill="#000" font-weight="normal" text-anchor="start" textLength="20.5" lengthAdjust="spacingAndGlyphs" >15,5</text>
<text x="734" y="712" font-size="11" fill="#000" font-weight="normal" text-anchor="start" textLength="20.5" lengthAdjust="spacingAndGlyphs" >15,0</text>
<text x="734" y="744" font-size="11" fill="#000" font-weight="normal" text-anchor="start" textLength="20.5" lengthAdjust="spacingAndGlyphs" >14,5</text>
<text x="734" y="778" font-size="11" fill="#000" font-weight="normal" text-anchor="start" textLength="20.5" lengthAdjust="spacingAndGlyphs" >14,0</text>
<text x="734" y="813" font-size="11" fill="#000" font-weight="normal" text-anchor="start" textLength="20.5" lengthAdjust="spacingAndGlyphs" >13,5</text>
<text x="734" y="849" font-size="11" fill="#000" font-weight="normal" text-anchor="start" textLength="20.5" lengthAdjust="spacingAndGlyphs" >13,0</text>
<text x="734" y="887" font-size="11" fill="#000" font-weight="normal" text-anchor="start" textLength="20.5" lengthAdjust="spacingAndGlyphs" >12,5</text>
<text x="734" y="927" font-size="11" fill="#000" font-weight="normal" text-anchor="start" textLength="20.5" lengthAdjust="spacingAndGlyphs" >12,0</text>
<text x="734" y="968" font-size="11" fill="#000" font-weight="normal" text-anchor="start" textLength="20.5" lengthAdjust="spacingAndGlyphs" >11,5</text>
<text x="734" y="1010" font-size="11" fill="#000" font-weight="normal" text-anchor="start" textLength="20.5" lengthAdjust="spacingAndGlyphs" >11,0</text>
<text x="65.0" y="1038.5" font-size="11" fill="#000" font-weight="normal" text-anchor="middle" >22.</text>
<text x="129.9" y="1038.5" font-size="11" fill="#000" font-weight="normal" text-anchor="middle" >02.</text>
<text x="129.3" y="1050.5" font-size="10" fill="#000" font-weight="normal" text-anchor="middle" >Mai</text>
<text x="175.6" y="1038.5" font-size="11" fill="#000" font-weight="normal" text-anchor="middle" >09.</text>
<text x="222.0" y="1038.5" font-size="11" fill="#000" font-weight="normal" text-anchor="middle" >16.</text>
<text x="267.0" y="1038.5" font-size="11" fill="#000" font-weight="normal" text-anchor="middle" >23.</text>
<text x="332.6" y="1038.5" font-size="11" fill="#000" font-weight="normal" text-anchor="middle" >03.</text>
<text x="332" y="1050.5" font-size="10" fill="#000" font-weight="normal" text-anchor="middle" >Juni</text>
<text x="377.8" y="1038.5" font-size="11" fill="#000" font-weight="normal" text-anchor="middle" >10.</text>
<text x="423.0" y="1038.5" font-size="11" fill="#000" font-weight="normal" text-anchor="middle" >17.</text>
<text x="468.6" y="1038.5" font-size="11" fill="#000" font-weight="normal" text-anchor="middle" >24.</text>
<text x="514.6" y="1038.5" font-size="11" fill="#000" font-weight="normal" text-anchor="middle" >01.</text>
<text x="514" y="1050.5" font-size="10" fill="#000" font-weight="normal" text-anchor="middle" >Juli</text>
<text x="561.0" y="1038.5" font-size="11" fill="#000" font-weight="normal" text-anchor="middle" >08.</text>
<text x="606.9" y="1038.5" font-size="11" fill="#000" font-weight="normal" text-anchor="middle" >15.</text>
<text x="652.8000000000001" y="1038.5" font-size="11" fill="#000" font-weight="normal" text-anchor="middle" >22.</text>
<text x="19.3" y="1023.5" font-size="11" fill="#9a9a9a" font-weight="normal" text-anchor="start" textLength="170" lengthAdjust="spacingAndGlyphs" >15.04.13 − 01.08.13&#160;&#160;&#160;1 Tick = 1 Tag</text>
<ellipse cx="221.7" cy="690" rx="89.7" ry="88.5" fill="none" stroke="#000" stroke-width="5"/>
<text x="165" y="716" font-size="35" fill="#000" font-weight="bold" text-anchor="start" textLength="96.3" lengthAdjust="spacingAndGlyphs" >ex Div</text>
<text x="412.1" y="595.3" font-size="23" fill="#000" font-weight="bold" text-anchor="start" textLength="54" lengthAdjust="spacingAndGlyphs" >2013</text>
<rect x="241.2" y="797.4" width="454.9" height="127.7" rx="13" ry="13" fill="none" stroke="#ed1c24" stroke-width="5"/>
<text x="326.9" y="880.8" font-size="62.5" fill="#00a2e8" font-weight="bold" text-anchor="start" textLength="219.3" lengthAdjust="spacingAndGlyphs" >KONSO</text>
<ellipse cx="741.6" cy="766" rx="52.6" ry="53.4" fill="none" stroke="#00a2e8" stroke-width="4"/>
<text x="722.4" y="782.2" font-size="63" fill="#00a2e8" font-weight="bold" text-anchor="middle" >?</text>
<path d="M724.7,832.3 C745,834.5 765,836.5 779,838.7 C792,841 798,844 801,848.5 C803.5,853 803.5,858 800,870" fill="none" stroke="#000" stroke-width="2.8" stroke-linecap="round"/>
<text x="762.5" y="903" font-size="27" fill="#000" font-weight="bold" text-anchor="start" textLength="107.5" lengthAdjust="spacingAndGlyphs" >BB sehr</text>
<text x="771.3" y="933.7" font-size="27" fill="#000" font-weight="bold" text-anchor="start" textLength="100.5" lengthAdjust="spacingAndGlyphs" >verengt</text>
</svg>
</body></html>
